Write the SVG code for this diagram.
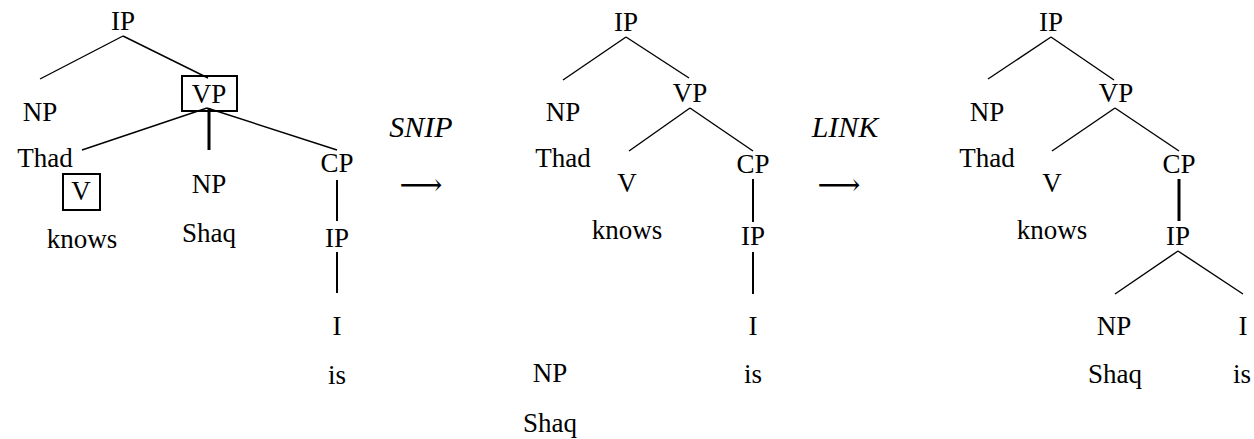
<svg xmlns="http://www.w3.org/2000/svg" width="1254" height="439" viewBox="0 0 1254 439">
  <style>
    text { font-family: "Liberation Serif", "Times New Roman", serif; font-size: 27px; fill: #000; text-anchor: middle; }
    .it { font-style: italic; font-size: 30px; }
    .arr { font-family: "DejaVu Serif", "DejaVu Sans", serif; font-size: 30px; }
    .edge { stroke: #000; stroke-width: 1.4; fill: none; }
    .vert { stroke: #000; stroke-width: 2; fill: none; }
    .bold { stroke: #000; stroke-width: 3; fill: none; }
    .box { stroke: #000; stroke-width: 2; fill: none; }
  </style>
  <rect width="1254" height="439" fill="#fff"/>

  <!-- tree before the cut -->
  <g id="tree1">
    <g id="t1-ip"><text x="123" y="30">IP</text></g>
    <g id="t1-np"><text x="40" y="121">NP</text></g>
    <g id="t1-thad"><text x="45" y="167">Thad</text></g>
    <g id="t1-vp"><rect class="box" x="182" y="76" width="55" height="35"/><text x="209" y="103">VP</text></g>
    <g id="t1-v"><rect class="box" x="63" y="174" width="37" height="36"/><text x="81" y="200">V</text></g>
    <g id="t1-knows"><text x="82" y="248">knows</text></g>
    <g id="t1-np2"><text x="209" y="193">NP</text></g>
    <g id="t1-shaq"><text x="209" y="242">Shaq</text></g>
    <g id="t1-cp"><text x="337" y="172">CP</text></g>
    <g id="t1-ip2"><text x="337" y="247">IP</text></g>
    <g id="t1-i"><text x="337" y="335">I</text></g>
    <g id="t1-is"><text x="337" y="384">is</text></g>
  </g>

  <!-- SNIP step -->
  <g id="snip">
    <text class="it" x="421" y="137">SNIP</text>
    <text class="arr" x="421" y="195">⟶</text>
  </g>

  <!-- tree after the cut -->
  <g id="tree2">
    <g id="t2-ip"><text x="626" y="31">IP</text></g>
    <g id="t2-np"><text x="563" y="121">NP</text></g>
    <g id="t2-thad"><text x="563" y="167">Thad</text></g>
    <g id="t2-vp"><text x="690" y="102">VP</text></g>
    <g id="t2-v"><text x="627" y="192">V</text></g>
    <g id="t2-knows"><text x="627" y="239">knows</text></g>
    <g id="t2-cp"><text x="753" y="173">CP</text></g>
    <g id="t2-ip2"><text x="753" y="245">IP</text></g>
    <g id="t2-i"><text x="753" y="335">I</text></g>
    <g id="t2-is"><text x="753" y="383">is</text></g>
    <g id="t2-np2"><text x="550" y="382">NP</text></g>
    <g id="t2-shaq"><text x="550" y="432">Shaq</text></g>
  </g>

  <!-- LINK step -->
  <g id="link">
    <text class="it" x="845" y="137">LINK</text>
    <text class="arr" x="839" y="195">⟶</text>
  </g>

  <!-- tree after relinking -->
  <g id="tree3">
    <g id="t3-ip"><text x="1051" y="31">IP</text></g>
    <g id="t3-np"><text x="987" y="121">NP</text></g>
    <g id="t3-thad"><text x="987" y="167">Thad</text></g>
    <g id="t3-vp"><text x="1116" y="102">VP</text></g>
    <g id="t3-v"><text x="1052" y="192">V</text></g>
    <g id="t3-knows"><text x="1052" y="239">knows</text></g>
    <g id="t3-cp"><text x="1179" y="173">CP</text></g>
    <g id="t3-ip2"><text x="1178" y="245">IP</text></g>
    <g id="t3-np2"><text x="1114" y="335">NP</text></g>
    <g id="t3-i"><text x="1243" y="335">I</text></g>
    <g id="t3-shaq"><text x="1115" y="383">Shaq</text></g>
    <g id="t3-is"><text x="1242" y="383">is</text></g>
  </g>

  <g id="connectors">
    <!-- tree 1 -->
    <line class="edge" x1="123" y1="36" x2="40" y2="79"/>
    <line class="edge" x1="123" y1="36" x2="208" y2="78"/>
    <line class="edge" x1="207" y1="108" x2="82" y2="150"/>
    <line class="edge" x1="207" y1="108" x2="337" y2="150"/>
    <line class="bold" x1="209" y1="108" x2="209" y2="150"/>
    <line class="vert" x1="337" y1="180" x2="337" y2="221"/>
    <line class="vert" x1="337" y1="252" x2="337" y2="293"/>
    <!-- tree 2 -->
    <line class="edge" x1="626" y1="37" x2="563" y2="80"/>
    <line class="edge" x1="626" y1="37" x2="689" y2="78"/>
    <line class="edge" x1="690" y1="108" x2="629" y2="151"/>
    <line class="edge" x1="690" y1="108" x2="753" y2="151"/>
    <line class="vert" x1="753" y1="179" x2="753" y2="222"/>
    <line class="vert" x1="753" y1="252" x2="753" y2="294"/>
    <!-- tree 3 -->
    <line class="edge" x1="1051" y1="37" x2="988" y2="79"/>
    <line class="edge" x1="1051" y1="37" x2="1114" y2="80"/>
    <line class="edge" x1="1115" y1="108" x2="1052" y2="151"/>
    <line class="edge" x1="1115" y1="108" x2="1179" y2="151"/>
    <line class="bold" x1="1179" y1="179" x2="1179" y2="221"/>
    <line class="edge" x1="1178" y1="251" x2="1115" y2="294"/>
    <line class="edge" x1="1178" y1="251" x2="1243" y2="294"/>
  </g>
</svg>
